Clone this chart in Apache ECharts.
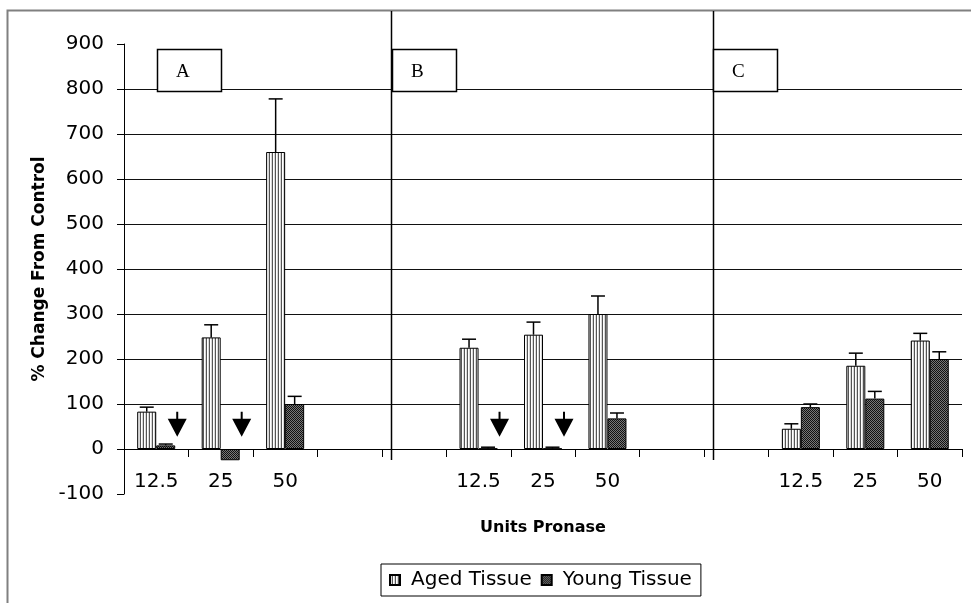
<!DOCTYPE html>
<html><head><meta charset="utf-8">
<script src="https://cdn.jsdelivr.net/npm/echarts@6/dist/echarts.min.js"></script>
<style>html,body{margin:0;padding:0;background:#fff}#c{width:971px;height:603px}</style>
</head><body><div id="c"></div>
<script>
// ---- data ----
const categories   = ['12.5','25','50','','','12.5','25','50','','','12.5','25','50'];
const agedValues   = [83, 248, 660, null, null, 225, 254, 300, null, null, 45, 185, 241];
const agedErrors   = [10, 28, 118, null, null, 19, 28, 40, null, null, 11, 28, 16];
const youngValues  = [8, -25, 100, null, null, 1, 1, 68, null, null, 93, 112, 200];
const youngErrors  = [3, 0, 17, null, null, 3, 3, 12, null, null, 7, 16, 16];
const arrowCategories = [0, 1, 5, 6];
const arrowValues     = [55, 55, 55, 55];
const seriesNames = ['Aged Tissue', 'Young Tissue'];
const panelLabels = ['A', 'B', 'C'];
const yMin = -100, yMax = 900, yStep = 100;

// ---- styling ----
const F = "'DejaVu Sans', sans-serif";
const BAR_W = 19;

function makePattern(w, h, cells) {
  const c = document.createElement('canvas');
  c.width = w; c.height = h;
  const ctx = c.getContext('2d');
  for (let y = 0; y < h; y++) for (let x = 0; x < w; x++) {
    ctx.fillStyle = cells[y][x];
    ctx.fillRect(x, y, 1, 1);
  }
  return { image: c, repeat: 'repeat' };
}
const agedPattern = makePattern(3, 1, [['#ffffff', '#d8d8d8', '#555555']]);
const youngPattern = makePattern(2, 2, [['#111111', '#777777'], ['#777777', '#111111']]);

function errSeries(vals, errs, side) {
  const data = [];
  vals.forEach((v, i) => { if (v != null && errs[i]) data.push([i, v, v + errs[i]]); });
  return {
    type: 'custom', data: data, encode: { x: 0, y: [1, 2] }, z: 5, silent: true,
    renderItem: function (params, api) {
      const i = api.value(0);
      const p1 = api.coord([i, api.value(1)]);
      const p2 = api.coord([i, api.value(2)]);
      const cx = p1[0] + side * BAR_W / 2;
      return { type: 'group', children: [
        { type: 'line', shape: { x1: cx, y1: p1[1], x2: cx, y2: p2[1] }, style: { stroke: '#000', lineWidth: 1.5 } },
        { type: 'line', shape: { x1: cx - 7, y1: p2[1], x2: cx + 7, y2: p2[1] }, style: { stroke: '#000', lineWidth: 1.5 } }
      ]};
    }
  };
}

const boxXs = [157, 392, 713];
const graphics = [
  { type: 'rect', shape: { x: 7.5, y: 10.5, width: 1200, height: 1200 }, style: { fill: null, stroke: '#808080', lineWidth: 2 }, z: 1 },
  { type: 'line', shape: { x1: 391.5, y1: 11, x2: 391.5, y2: 460 }, style: { stroke: '#000', lineWidth: 1.5 }, z: 100 },
  { type: 'line', shape: { x1: 713.5, y1: 11, x2: 713.5, y2: 460 }, style: { stroke: '#000', lineWidth: 1.5 }, z: 100 }
];
panelLabels.forEach((t, k) => {
  graphics.push({ type: 'rect', shape: { x: boxXs[k] + 0.5, y: 49.5, width: 64, height: 42 },
    style: { fill: '#fff', stroke: '#000', lineWidth: 1.5 }, z: 101 });
  graphics.push({ type: 'text', x: boxXs[k] + 19, y: 72, z: 102,
    style: { text: t, font: "19px 'Liberation Serif', serif", fill: '#000', verticalAlign: 'middle' } });
});

const chart = echarts.init(document.getElementById('c'), null, { renderer: 'canvas' });
chart.setOption({
  animation: false,
  backgroundColor: '#fff',
  grid: { left: 124, right: 9, top: 44, bottom: 109 },
  legend: {
    data: seriesNames, left: 381, top: 564, icon: 'rect', itemWidth: 10, itemHeight: 10, itemGap: 9,
    padding: [6, 9, 6, 8], borderColor: '#000', borderWidth: 1,
    textStyle: { fontSize: 20, fontFamily: F, color: '#000', padding: [0, 0, 0, 6] }
  },
  xAxis: {
    type: 'category', data: categories,
    axisLine: { onZero: true, lineStyle: { color: '#000', width: 1 } },
    axisTick: { show: true, interval: 0, length: 8, lineStyle: { color: '#000' } },
    axisLabel: { interval: 0, fontSize: 20, fontFamily: F, color: '#000', margin: -22 },
    name: 'Units Pronase', nameLocation: 'middle', nameGap: 26,
    nameTextStyle: { fontSize: 16, fontWeight: 'bold', fontFamily: F, color: '#000' }
  },
  yAxis: {
    type: 'value', min: yMin, max: yMax, interval: yStep,
    axisLine: { show: true, lineStyle: { color: '#000', width: 1 } },
    axisTick: { show: true, length: 7, lineStyle: { color: '#000' } },
    axisLabel: { fontSize: 20, fontFamily: F, color: '#000', margin: 20 },
    splitLine: { show: true, showMinLine: false, showMaxLine: false, lineStyle: { color: '#111', width: 1 } },
    name: '% Change From Control', nameLocation: 'middle', nameGap: 76,
    nameTextStyle: { fontSize: 17, fontWeight: 'bold', fontFamily: F, color: '#000' }
  },
  series: [
    { name: seriesNames[0], type: 'bar', data: agedValues, barWidth: BAR_W, barGap: '0%',
      itemStyle: { color: agedPattern, borderColor: '#000', borderWidth: 1 } },
    { name: seriesNames[1], type: 'bar', data: youngValues, barWidth: BAR_W, barGap: '0%',
      itemStyle: { color: youngPattern, borderColor: '#000', borderWidth: 1 } },
    errSeries(agedValues, agedErrors, -1),
    errSeries(youngValues, youngErrors, 1),
    { type: 'scatter', data: arrowCategories.map((c, i) => [c, arrowValues[i]]), silent: true,
      symbol: 'path://M7.5,0 L9.5,0 L9.5,7 L18,7 L8.5,25 L-1,7 L7.5,7 Z', symbolSize: [19, 25], symbolOffset: [21, 0],
      itemStyle: { color: '#000', opacity: 1 }, z: 6 }
  ],
  graphic: graphics
});
</script>
</body></html>
